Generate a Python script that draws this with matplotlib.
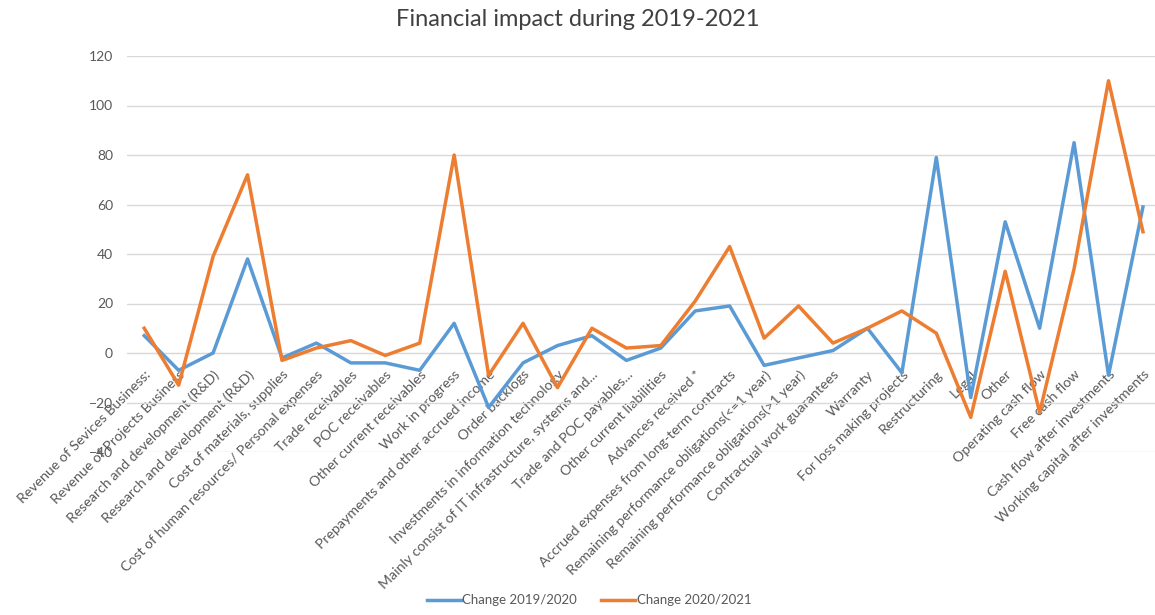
import matplotlib
matplotlib.use("Agg")
import matplotlib.pyplot as plt
import numpy as np

categories = [
    "Revenue of Sevices Business:", "Revenue of Projects Business",
    "Research and development (R&D)", "Research and development (R&D)",
    "Cost of materials, supplies", "Cost of human resources/ Personal expenses",
    "Trade receivables", "POC receivables", "Other current receivables",
    "Work in progress", "Prepayments and other accrued income", "Order backlogs",
    "Investments in information technology",
    "Mainly consist of IT infrastructure, systems and...",
    "Trade and POC payables...", "Other current liabilities", "Advances received *",
    "Accrued expenses from long-term contracts",
    "Remaining performance obligations(<=1 year)",
    "Remaining performance obligations(>1 year)", "Contractual work guarantees",
    "Warranty", "For loss making projects", "Restructuring", "Legal", "Other",
    "Operating cash flow", "Free cash flow", "Cash flow after investments",
    "Working capital after investments",
]
change_2019_2020 = [7, -7, 0, 38, -2, 4, -4, -4, -7, 12, -22, -4, 3, 7, -3,
                    2, 17, 19, -5, -2, 1, 10, -8, 79, -18, 53, 10, 85, -9, 59]
change_2020_2021 = [10, -13, 39, 72, -3, 2, 5, -1, 4, 80, -9, 12, -14, 10, 2,
                    3, 21, 43, 6, 19, 4, 10, 17, 8, -26, 33, -24, 34, 110, 49]
y_ticks = [-40, -20, 0, 20, 40, 60, 80, 100, 120]

BLUE = "#5B9BD5"
ORANGE = "#ED7D31"
GREY = "#595959"
plt.rcParams["font.family"] = ["Lato", "DejaVu Sans"]

fig = plt.figure(figsize=(11.55, 6.15), dpi=100)
ax = fig.add_axes([127 / 1155, 163 / 615, 1028 / 1155, 396 / 615])

x = np.arange(len(categories))
ax.plot(x, change_2019_2020, color=BLUE, lw=2.5, label="Change 2019/2020", zorder=3)
ax.plot(x, change_2020_2021, color=ORANGE, lw=2.5, label="Change 2020/2021", zorder=3)

ax.set_xlim(-0.5, 29.35)
ax.set_ylim(-40, 120)
ax.set_yticks(y_ticks)
ax.grid(axis="y", color="#D9D9D9", lw=1)
ax.set_axisbelow(True)
for s in ["top", "right", "left"]:
    ax.spines[s].set_visible(False)
# category axis crosses the value axis at zero
ax.spines["bottom"].set_position(("data", 0))
ax.spines["bottom"].set_color("#D9D9D9")
ax.tick_params(axis="y", length=0, pad=10, labelsize=10, labelcolor=GREY)
ax.tick_params(axis="x", length=0, pad=11)
ax.set_xticks(x)
ax.set_xticklabels(categories, rotation=45, ha="right", rotation_mode="anchor",
                   fontsize=10.2, color=GREY)

fig.suptitle("Financial impact during 2019-2021", x=0.5, y=0.985, fontsize=17,
             color="#404040")
fig.legend(loc="lower center", bbox_to_anchor=(0.51, -0.005), ncol=2, frameon=False,
           fontsize=9.5, handlelength=2.6, handletextpad=0.1, columnspacing=1.8,
           labelcolor=GREY)

fig.savefig("out.png", dpi=100)
